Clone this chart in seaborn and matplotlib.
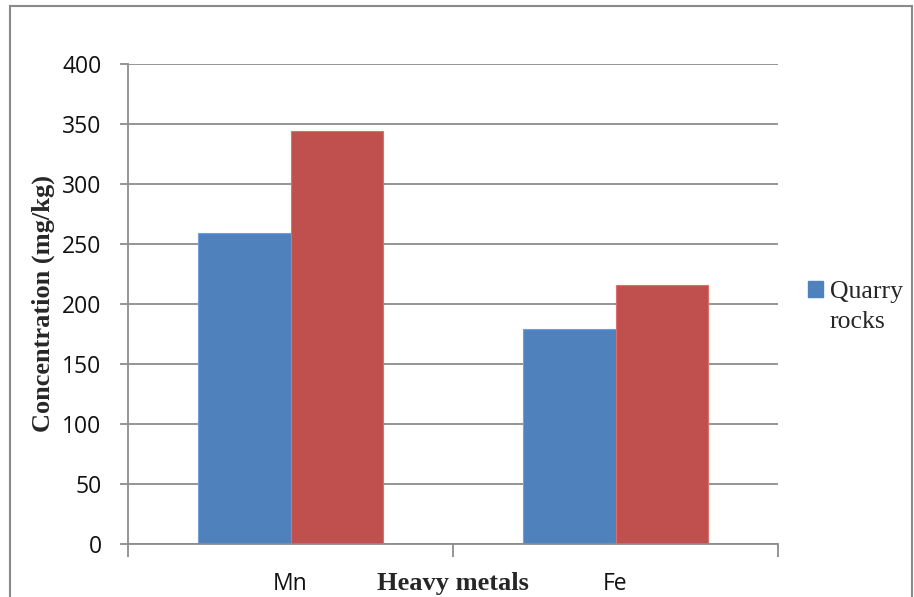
import matplotlib
matplotlib.use("Agg")
import matplotlib.pyplot as plt
import seaborn as sns
import pandas as pd
from matplotlib.patches import Rectangle

# ---- data ----
metals = ["Mn", "Fe"]
quarry_rocks = [259, 179]
series_two = [344, 216]
series_names = ["Quarry rocks", "Series 2"]
y_ticks = [0, 50, 100, 150, 200, 250, 300, 350, 400]

df = pd.DataFrame({
    "metal": metals * 2,
    "value": quarry_rocks + series_two,
    "series": [series_names[0]] * len(metals) + [series_names[1]] * len(metals),
})

sns.set_style("white")
plt.rcParams["font.family"] = ["Open Sans", "DejaVu Sans"]

BLUE = "#4F81BD"
RED = "#C0504D"
GRID = "#8c8c8c"

W, H = 914, 597
fig = plt.figure(figsize=(W / 100, H / 100), dpi=100)
ax = fig.add_axes([128 / W, (H - 544) / H, 650 / W, 480 / H])

sns.barplot(data=df, x="metal", y="value", hue="series", order=metals,
            hue_order=series_names, palette=[BLUE, RED], saturation=1,
            width=0.572, gap=0, legend=False, ax=ax)
for p in ax.patches:
    fc = p.get_facecolor()
    p.set_edgecolor((min(fc[0] + 0.12, 1), min(fc[1] + 0.12, 1), min(fc[2] + 0.12, 1), 1))
    p.set_linewidth(0.8)

ax.set_xlim(-0.5, 1.5)
ax.set_ylim(0, 400)
ax.set_yticks(y_ticks)
ax.yaxis.grid(True, color=GRID, linewidth=1.3)
ax.xaxis.grid(False)
ax.set_axisbelow(True)

for s in ["top", "right"]:
    ax.spines[s].set_visible(False)
for s in ["left", "bottom"]:
    ax.spines[s].set_color(GRID)
    ax.spines[s].set_linewidth(1.3)

ax.tick_params(axis="y", length=6, width=1.3, color=GRID, pad=13,
               labelsize=16.5, labelcolor="#111111", left=True)
ax.set_xticks(range(len(metals)))
ax.set_xticklabels(metals)
ax.set_xticks([-0.5, 0.5, 1.5], minor=True)
ax.tick_params(axis="x", which="major", length=0, pad=20, labelsize=16.5,
               labelcolor="#111111")
ax.tick_params(axis="x", which="minor", length=9, width=1.3, color=GRID, bottom=True)

ax.set_xlabel("Heavy metals", fontsize=19, fontweight="bold",
              family="Liberation Serif")
ax.xaxis.set_label_coords(0.5, -0.058)
ax.set_ylabel("Concentration (mg/kg)", fontsize=19, fontweight="bold",
              family="Liberation Serif")
ax.yaxis.set_label_coords(-0.113, 0.5)

# legend (only first series shown, as in the reference)
handle = Rectangle((0, 0), 1, 1, facecolor=BLUE, edgecolor=BLUE)
leg = fig.legend([handle], ["Quarry"], loc="upper left",
                 bbox_to_anchor=(808 / W, 1 - 281 / H), frameon=False,
                 prop={"family": "Liberation Serif", "size": 18.5},
                 handlelength=0.6, handleheight=0.6, handletextpad=0.25,
                 borderpad=0, borderaxespad=0)
fig.canvas.draw()
t = leg.get_texts()[0]
bb = t.get_window_extent()
fig.text(bb.x0 / W, (bb.y0 - 30) / H, "rocks", family="Liberation Serif",
         fontsize=18.5, ha="left", va="bottom")

# outer chart border
fig.patches.append(Rectangle((10 / W, -0.05), (912 - 10) / W, 1.05 - 6 / H,
                             transform=fig.transFigure, fill=False,
                             edgecolor="#8a8a8a", linewidth=1.5))

fig.savefig("out.png", dpi=100, facecolor="white")
